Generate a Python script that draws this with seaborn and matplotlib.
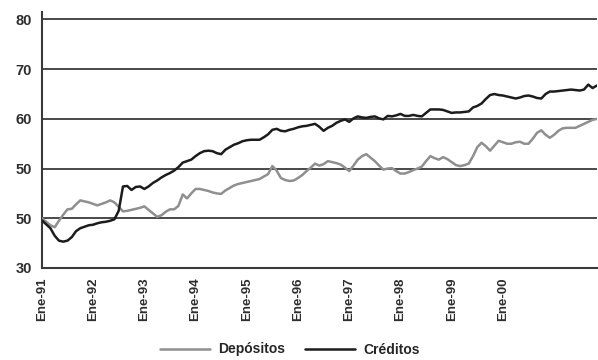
import pandas as pd
import matplotlib
matplotlib.use('Agg')
import matplotlib.pyplot as plt
import seaborn as sns

# Datos mensuales desde Ene-91
creditos = [39.6, 38.8, 38.0, 36.5, 35.5, 35.3, 35.5, 36.2, 37.4, 38.0,
            38.3, 38.6, 38.7, 39.0, 39.2, 39.3, 39.5, 39.8, 41.5, 46.4,
            46.5, 45.7, 46.3, 46.4, 45.9, 46.4, 47.1, 47.6, 48.2, 48.7,
            49.1, 49.6, 50.3, 51.2, 51.5, 51.8, 52.5, 53.1, 53.5, 53.6,
            53.5, 53.1, 52.9, 53.8, 54.3, 54.8, 55.1, 55.5, 55.7, 55.8,
            55.8, 55.8, 56.3, 56.9, 57.8, 58.0, 57.6, 57.5, 57.8, 58.0,
            58.3, 58.5, 58.6, 58.8, 59.0, 58.4, 57.6, 58.2, 58.6, 59.2,
            59.6, 59.9, 59.4, 60.1, 60.5, 60.3, 60.2, 60.4, 60.5, 60.1,
            59.9, 60.6, 60.5, 60.7, 61.0, 60.6, 60.6, 60.8, 60.6, 60.5,
            61.2, 61.9, 61.9, 61.9, 61.8, 61.5, 61.2, 61.3, 61.3, 61.4,
            61.5, 62.3, 62.6, 63.1, 64.0, 64.8, 65.0, 64.8, 64.7, 64.5,
            64.3, 64.1, 64.3, 64.6, 64.7, 64.5, 64.2, 64.1, 65.0, 65.5,
            65.5, 65.6, 65.7, 65.8, 65.9, 65.8, 65.7, 65.9, 66.9, 66.2,
            66.7]

depositos = [40.0, 39.3, 38.6, 38.2, 39.5, 40.7, 41.8, 41.9, 42.8, 43.6,
             43.4, 43.2, 42.9, 42.6, 42.9, 43.2, 43.6, 43.2, 42.3, 41.4,
             41.5, 41.7, 41.9, 42.1, 42.4, 41.7, 41.0, 40.3, 40.6, 41.3,
             41.8, 41.8, 42.5, 44.8, 44.0, 45.0, 45.9, 45.9, 45.7, 45.5,
             45.2, 45.0, 44.9, 45.6, 46.1, 46.6, 46.9, 47.1, 47.3, 47.5,
             47.7, 47.9, 48.4, 48.9, 50.5, 49.6, 48.1, 47.7, 47.5, 47.6,
             48.1, 48.7, 49.5, 50.2, 51.0, 50.6, 50.9, 51.5, 51.3, 51.1,
             50.8, 50.2, 49.5, 50.6, 51.8, 52.5, 52.9, 52.2, 51.5, 50.6,
             49.8, 50.0, 50.1, 49.5, 49.0, 49.0, 49.3, 49.7, 50.0, 50.4,
             51.5, 52.5, 52.1, 51.8, 52.3, 51.9, 51.3, 50.7, 50.5, 50.7,
             51.0, 52.5, 54.3, 55.2, 54.5, 53.6, 54.6, 55.6, 55.3, 55.0,
             55.0, 55.3, 55.4, 55.0, 55.0, 56.0, 57.2, 57.7, 56.8, 56.2,
             56.8, 57.6, 58.1, 58.2, 58.2, 58.2, 58.6, 59.0, 59.4, 59.8,
             60.0]

etiquetas_x = ['Ene-91', 'Ene-92', 'Ene-93', 'Ene-94', 'Ene-95',
               'Ene-96', 'Ene-97', 'Ene-98', 'Ene-99', 'Ene-00']
ticks_y = [30, 40, 50, 60, 70, 80]
etiquetas_y = ['30', '50', '50', '60', '70', '80']

mes = list(range(len(creditos)))
df = pd.concat([
    pd.DataFrame({'Mes': mes, 'Valor': depositos, 'Serie': 'Depósitos'}),
    pd.DataFrame({'Mes': mes, 'Valor': creditos, 'Serie': 'Créditos'}),
])

sns.set_style('white')
plt.rcParams['font.family'] = ['Liberation Sans', 'DejaVu Sans']

fig = plt.figure(figsize=(5.98, 3.6), dpi=100)
ax = fig.add_axes([0.070, 0.2556, 0.928, 0.711])

for y in ticks_y[1:]:
    ax.axhline(y, color='#3a3a3a', lw=1.3, zorder=1)

sns.lineplot(data=df, x='Mes', y='Valor', hue='Serie',
             palette={'Depósitos': '#8f8f8f', 'Créditos': '#1c1c1c'},
             linewidth=1.8, ax=ax, zorder=3)

ax.set_xlim(0, len(creditos) - 1)
ax.set_ylim(30, 81.5)
ax.set_xticks([12 * i for i in range(len(etiquetas_x))])
ax.set_xticklabels(etiquetas_x, rotation=90, fontsize=9.5, fontweight='bold', color='#2e2e2e')
ax.set_yticks(ticks_y)
ax.set_yticklabels(etiquetas_y, fontsize=10.5, fontweight='bold', color='#2e2e2e')
ax.tick_params(axis='both', direction='out', length=5, width=1.3, color='#3a3a3a', pad=2)
ax.set_xlabel('')
ax.set_ylabel('')

sns.despine(ax=ax, top=True, right=True)
for s in ['left', 'bottom']:
    ax.spines[s].set_color('#3a3a3a')
    ax.spines[s].set_linewidth(1.5)

handles, labels = ax.get_legend_handles_labels()
ax.get_legend().remove()
fig.legend(handles, labels, loc='lower center', bbox_to_anchor=(0.485, -0.025), ncol=2,
           frameon=False, handlelength=3.6, columnspacing=1.4, handletextpad=0.6,
           prop={'weight': 'bold', 'size': 10})

fig.savefig('out.png', dpi=100)
